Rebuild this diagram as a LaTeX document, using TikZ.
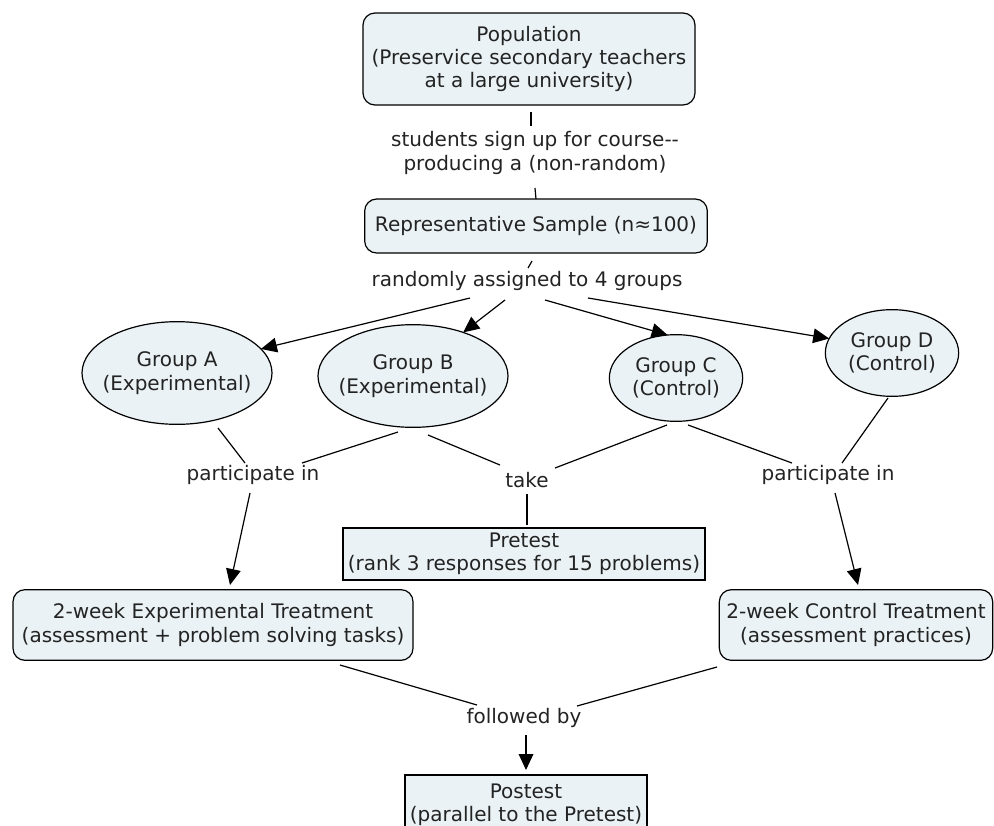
\documentclass[tikz,border=0pt]{standalone}
\usepackage{fontspec}
\newfontfamily\mapfont{DejaVu Sans}
\usetikzlibrary{shapes.geometric,arrows.meta,calc}
\definecolor{conceptfill}{RGB}{234,242,245}
\definecolor{maptext}{RGB}{35,35,35}

\begin{document}
\begin{tikzpicture}[x=0.75pt,y=-0.75pt,
	font=\mapfont\fontsize{15}{17.6}\selectfont,text=maptext,
	concept/.style={draw,fill=conceptfill,rounded corners=9pt,line width=0.9pt,align=center,inner sep=0pt,outer sep=0pt},
	testbox/.style={draw,fill=conceptfill,line width=0.9pt,align=center,inner sep=0pt,outer sep=0pt},
	group/.style={draw,ellipse,fill=conceptfill,line width=0.9pt,align=center,inner xsep=-6pt,inner ysep=0pt,outer sep=0pt},
	linkword/.style={align=center,inner sep=0pt},
	link/.style={line width=0.9pt},
	flow/.style={line width=0.9pt,-{Triangle[length=12pt,width=11pt]}}]

	\useasboundingbox (0,0) rectangle (994,825);

	\node[concept,minimum width=249pt,minimum height=69pt] (pop) at (529,59) {Population\\(Preservice secondary teachers\\at a large university)};
	\node[linkword] (signup) at (535,153) {students sign up for course--\\producing a (non-random)};
	\node[concept,minimum width=257pt,minimum height=40.5pt] (sample) at (536,226) {Representative Sample (n≈100)};
	\node[linkword] (assigned) at (527,281) {randomly assigned to 4 groups};

	\node[group,minimum width=142.5pt,minimum height=77pt] (grpA) at (177,373) {Group A\\(Experimental)};
	\node[group,minimum width=142.5pt,minimum height=77pt] (grpB) at (413,376) {Group B\\(Experimental)};
	\node[group,minimum width=100pt,minimum height=65pt] (grpC) at (676,378) {Group C\\(Control)};
	\node[group,minimum width=100pt,minimum height=65pt] (grpD) at (892,353) {Group D\\(Control)};

	\node[linkword] (partA) at (253,475) {participate in};
	\node[linkword] (take) at (527,480) {take};
	\node[linkword] (partD) at (828,475) {participate in};

	\node[testbox,minimum width=271.5pt,minimum height=39pt] (pre) at (524,554) {Pretest\\(rank 3 responses for 15 problems)};
	\node[concept,minimum width=300pt,minimum height=53pt] (expt) at (213,625) {2-week Experimental Treatment\\(assessment + problem solving tasks)};
	\node[concept,minimum width=205pt,minimum height=53pt] (ctrl) at (856,625) {2-week Control Treatment\\(assessment practices)};
	\node[linkword] (follow) at (524,718) {followed by};
	\node[testbox,minimum width=181.5pt,minimum height=45pt] (post) at (526,805) {Postest\\(parallel to the Pretest)};




	\draw[link] ($(pop.south)+(2,7)$) -- ($(signup)+(-4,-27)$);
	\draw[link] ($(signup)+(0,35)$) -- (sample.north);
	\draw[link] ($(sample.south)+(-4,8)$) -- ($(assigned)+(1,-13)$);

	\draw[flow] ($(assigned)+(-57,17)$) -- (grpA.16);
	\draw[flow] ($(assigned)+(-22,19)$) -- (grpB.41);
	\draw[flow] ($(assigned)+(18,19)$) -- (grpC.101);
	\draw[flow] ($(assigned)+(61,17)$) -- (grpD.167);

	\draw[link] ($(grpA)+(41,55)$) -- ($(partA)+(-8,-12)$);
	\draw[link] ($(grpB)+(-15,56)$) -- ($(partA)+(49,-12)$);
	\draw[flow] ($(partA)+(-3,18)$) -- ($(expt)+(17,-40)$);

	\draw[link] ($(grpB)+(15,59)$) -- ($(take)+(-27,-15)$);
	\draw[link] ($(grpC)+(-9,47)$) -- ($(take)+(28,-12)$);
	\draw[link] ($(take)+(0,14)$) -- ($(pre.north)+(3,-3)$);

	\draw[link] ($(grpC)+(12,47)$) -- ($(partD)+(-36,-12)$);
	\draw[link] ($(grpD)+(-4,45)$) -- ($(partD)+(14,-12)$);
	\draw[flow] ($(partD)+(7,18)$) -- ($(ctrl)+(2,-40)$);

	\draw[link] ($(expt)+(127,40)$) -- ($(follow)+(-47,-13)$);
	\draw[link] ($(ctrl)+(-139,42)$) -- ($(follow)+(53,-12)$);
	\draw[flow] ($(follow)+(2,17)$) -- ($(post.north)+(0,-5)$);

\end{tikzpicture}
\end{document}
